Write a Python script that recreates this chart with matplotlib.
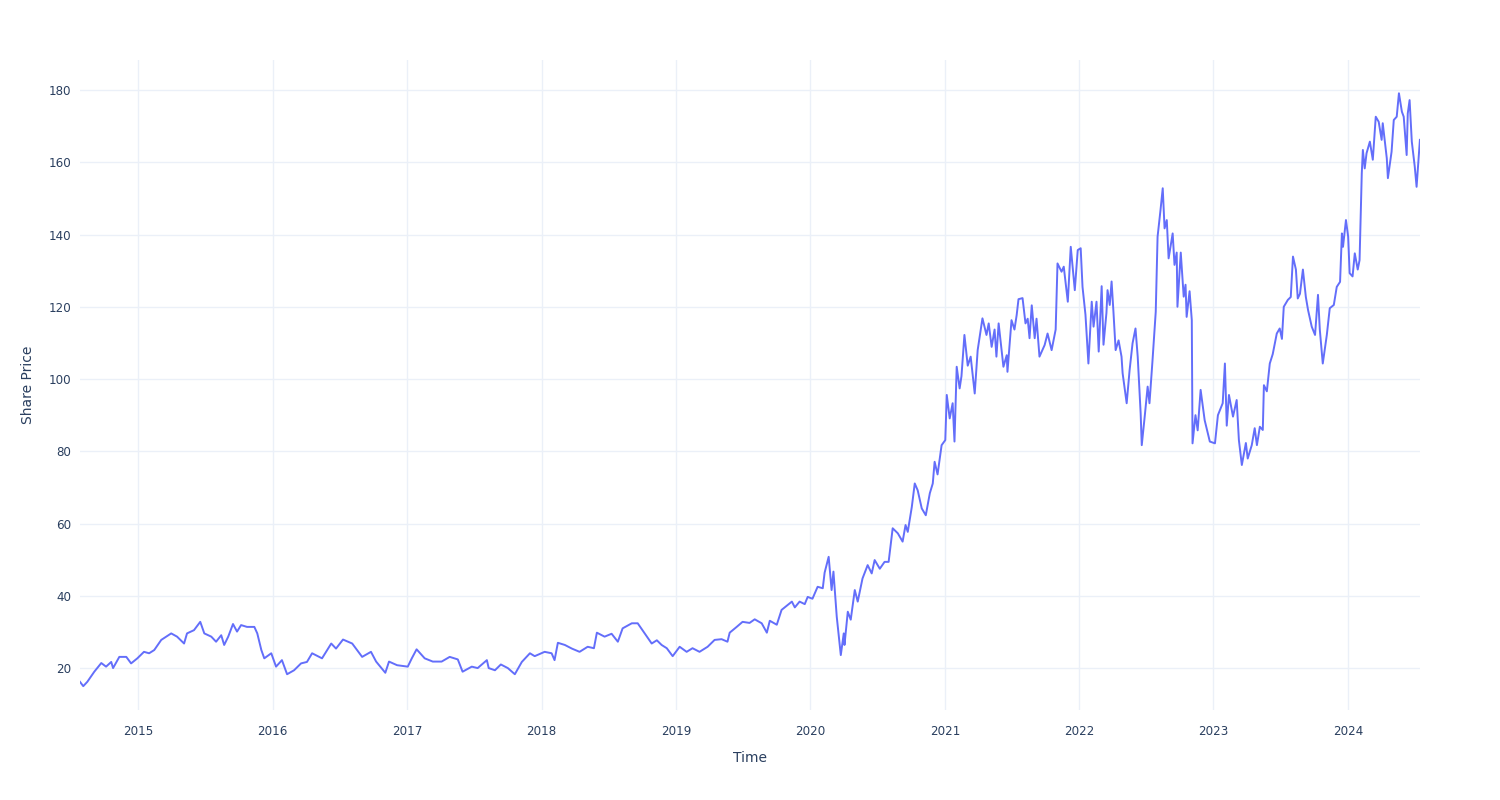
import matplotlib
matplotlib.use("Agg")
import matplotlib.pyplot as plt
import matplotlib.dates as mdates
import pandas as pd

# closing share price
dates = [
    "2014-07-26", "2014-08-04", "2014-08-15", "2014-09-03", "2014-09-22", "2014-10-05",
    "2014-10-19", "2014-10-24", "2014-11-10", "2014-11-29", "2014-12-12", "2014-12-29",
    "2015-01-16", "2015-01-30", "2015-02-13", "2015-03-04", "2015-03-31", "2015-04-16",
    "2015-05-05", "2015-05-13", "2015-06-01", "2015-06-18", "2015-06-29", "2015-07-18",
    "2015-07-31", "2015-08-14", "2015-08-22", "2015-09-02", "2015-09-15", "2015-09-26",
    "2015-10-07", "2015-10-23", "2015-11-12", "2015-11-20", "2015-12-01", "2015-12-09",
    "2015-12-28", "2016-01-10", "2016-01-26", "2016-02-09", "2016-02-28", "2016-03-18",
    "2016-04-03", "2016-04-17", "2016-05-14", "2016-06-08", "2016-06-21", "2016-07-10",
    "2016-08-04", "2016-08-31", "2016-09-24", "2016-10-08", "2016-11-02", "2016-11-12",
    "2016-12-04", "2017-01-02", "2017-01-13", "2017-01-26", "2017-02-17", "2017-03-11",
    "2017-04-04", "2017-04-26", "2017-05-18", "2017-05-31", "2017-06-25", "2017-07-11",
    "2017-08-05", "2017-08-10", "2017-08-27", "2017-09-12", "2017-10-01", "2017-10-20",
    "2017-11-08", "2017-11-30", "2017-12-13", "2018-01-09", "2018-01-28", "2018-02-05",
    "2018-02-14", "2018-03-05", "2018-03-24", "2018-04-14", "2018-05-06", "2018-05-23",
    "2018-05-31", "2018-06-21", "2018-07-10", "2018-07-27", "2018-08-09", "2018-09-03",
    "2018-09-19", "2018-10-08", "2018-10-27", "2018-11-10", "2018-11-23", "2018-12-07",
    "2018-12-23", "2019-01-11", "2019-01-30", "2019-02-15", "2019-03-06", "2019-03-28",
    "2019-04-16", "2019-05-05", "2019-05-21", "2019-05-27", "2019-06-15", "2019-07-01",
    "2019-07-20", "2019-08-03", "2019-08-22", "2019-09-05", "2019-09-13", "2019-10-02",
    "2019-10-15", "2019-11-12", "2019-11-20", "2019-12-03", "2019-12-17", "2019-12-25",
    "2020-01-07", "2020-01-21", "2020-02-04", "2020-02-09", "2020-02-20", "2020-02-28",
    "2020-03-04", "2020-03-13", "2020-03-24", "2020-04-01", "2020-04-03", "2020-04-12",
    "2020-04-20", "2020-05-01", "2020-05-09", "2020-05-22", "2020-06-05", "2020-06-16",
    "2020-06-24", "2020-07-08", "2020-07-21", "2020-08-01", "2020-08-12", "2020-08-26",
    "2020-09-08", "2020-09-16", "2020-09-22", "2020-10-03", "2020-10-11", "2020-10-19",
    "2020-10-30", "2020-11-10", "2020-11-21", "2020-11-29", "2020-12-04", "2020-12-12",
    "2020-12-23", "2021-01-02", "2021-01-06", "2021-01-14", "2021-01-22", "2021-01-27",
    "2021-02-02", "2021-02-10", "2021-02-15", "2021-02-23", "2021-03-04", "2021-03-12",
    "2021-03-23", "2021-03-31", "2021-04-13", "2021-04-24", "2021-04-30", "2021-05-08",
    "2021-05-16", "2021-05-21", "2021-05-27", "2021-06-09", "2021-06-18", "2021-06-20",
    "2021-07-01", "2021-07-09", "2021-07-15", "2021-07-20", "2021-07-31", "2021-08-08",
    "2021-08-14", "2021-08-19", "2021-08-25", "2021-09-02", "2021-09-07", "2021-09-15",
    "2021-09-29", "2021-10-07", "2021-10-18", "2021-10-29", "2021-11-03", "2021-11-14",
    "2021-11-20", "2021-12-01", "2021-12-09", "2021-12-20", "2021-12-28", "2022-01-05",
    "2022-01-10", "2022-01-18", "2022-01-26", "2022-02-04", "2022-02-09", "2022-02-17",
    "2022-02-23", "2022-03-03", "2022-03-08", "2022-03-16", "2022-03-19", "2022-03-25",
    "2022-03-30", "2022-04-04", "2022-04-10", "2022-04-18", "2022-04-26", "2022-04-29",
    "2022-05-10", "2022-05-18", "2022-05-26", "2022-06-03", "2022-06-09", "2022-06-17",
    "2022-06-20", "2022-06-28", "2022-07-06", "2022-07-11", "2022-07-19", "2022-07-28",
    "2022-08-02", "2022-08-10", "2022-08-16", "2022-08-21", "2022-08-27", "2022-09-01",
    "2022-09-12", "2022-09-17", "2022-09-23", "2022-09-25", "2022-10-04", "2022-10-12",
    "2022-10-17", "2022-10-20", "2022-10-28", "2022-11-03", "2022-11-05", "2022-11-13",
    "2022-11-19", "2022-11-27", "2022-12-08", "2022-12-22", "2023-01-05", "2023-01-13",
    "2023-01-26", "2023-02-01", "2023-02-06", "2023-02-12", "2023-02-23", "2023-03-05",
    "2023-03-11", "2023-03-19", "2023-03-30", "2023-04-04", "2023-04-15", "2023-04-23",
    "2023-04-29", "2023-05-07", "2023-05-15", "2023-05-18", "2023-05-26", "2023-06-03",
    "2023-06-11", "2023-06-22", "2023-06-30", "2023-07-06", "2023-07-11", "2023-07-22",
    "2023-07-30", "2023-08-05", "2023-08-13", "2023-08-18", "2023-08-24", "2023-09-01",
    "2023-09-09", "2023-09-15", "2023-09-25", "2023-10-04", "2023-10-12", "2023-10-17",
    "2023-10-25", "2023-11-05", "2023-11-13", "2023-11-24", "2023-12-02", "2023-12-11",
    "2023-12-16", "2023-12-19", "2023-12-27", "2024-01-02", "2024-01-06", "2024-01-14",
    "2024-01-20", "2024-01-28", "2024-02-02", "2024-02-08", "2024-02-11", "2024-02-16",
    "2024-02-21", "2024-03-01", "2024-03-09", "2024-03-17", "2024-03-25", "2024-04-02",
    "2024-04-05", "2024-04-16", "2024-04-19", "2024-04-29", "2024-05-05", "2024-05-13",
    "2024-05-19", "2024-05-27", "2024-06-01", "2024-06-09", "2024-06-12", "2024-06-17",
    "2024-06-23", "2024-07-01", "2024-07-06", "2024-07-15",
]

prices = [
    16.2, 15.0, 16.2, 19.0, 21.4, 20.4,
    21.7, 20.0, 23.1, 23.1, 21.3, 22.7,
    24.5, 24.1, 25.0, 27.8, 29.6, 28.7,
    26.8, 29.6, 30.5, 32.8, 29.6, 28.7,
    27.3, 29.1, 26.4, 28.7, 32.2, 30.1,
    31.9, 31.4, 31.4, 29.6, 25.0, 22.7,
    24.1, 20.4, 22.2, 18.3, 19.4, 21.3,
    21.7, 24.1, 22.7, 26.8, 25.4, 27.9,
    26.8, 23.1, 24.5, 21.8, 18.7, 21.8,
    20.8, 20.4, 22.7, 25.2, 22.7, 21.8,
    21.8, 23.1, 22.4, 19.0, 20.4, 20.0,
    22.2, 20.0, 19.4, 21.0, 20.0, 18.3,
    21.7, 24.1, 23.3, 24.5, 24.1, 22.2,
    27.0, 26.4, 25.4, 24.5, 25.9, 25.5,
    29.8, 28.7, 29.5, 27.3, 31.0, 32.4,
    32.4, 29.6, 26.8, 27.7, 26.4, 25.5,
    23.3, 25.9, 24.5, 25.5, 24.5, 25.9,
    27.8, 28.0, 27.3, 29.8, 31.4, 32.8,
    32.5, 33.5, 32.4, 29.8, 33.1, 32.0,
    36.1, 38.4, 36.8, 38.4, 37.7, 39.7,
    39.2, 42.5, 42.1, 46.4, 50.8, 41.6,
    46.7, 34.2, 23.6, 29.6, 26.4, 35.6,
    33.4, 41.6, 38.4, 44.8, 48.5, 46.2,
    49.9, 47.5, 49.4, 49.4, 58.7, 57.3,
    55.0, 59.6, 57.7, 64.6, 71.1, 69.2,
    64.2, 62.3, 68.4, 71.1, 77.1, 73.6,
    81.7, 83.1, 95.6, 89.1, 93.3, 82.7,
    103.4, 97.4, 100.8, 112.2, 103.7, 106.2,
    96.0, 108.0, 116.8, 112.2, 115.4, 108.9,
    113.7, 106.2, 115.4, 103.4, 106.6, 102.0,
    116.3, 113.7, 117.7, 122.1, 122.4, 115.4,
    116.7, 111.3, 120.4, 111.3, 116.7, 106.2,
    109.4, 112.6, 108.0, 113.7, 132.0, 129.7,
    131.1, 121.4, 136.6, 124.6, 135.7, 136.2,
    125.5, 117.8, 104.3, 121.4, 114.5, 121.4,
    107.6, 125.7, 109.5, 118.3, 124.6, 120.5,
    127.0, 118.7, 108.0, 110.7, 106.2, 101.6,
    93.3, 102.5, 109.9, 114.0, 106.2, 90.5,
    81.7, 89.6, 97.9, 93.3, 104.8, 118.6,
    139.4, 146.8, 152.8, 141.7, 144.0, 133.4,
    140.3, 131.6, 135.0, 120.0, 135.0, 122.8,
    126.1, 117.2, 124.3, 116.3, 82.2, 90.0,
    85.8, 97.0, 88.6, 82.7, 82.2, 90.0,
    93.3, 104.3, 87.1, 95.6, 89.6, 94.2,
    83.1, 76.2, 82.3, 78.0, 81.7, 86.4,
    81.7, 86.8, 85.9, 98.3, 96.6, 104.3,
    106.9, 112.6, 114.0, 111.1, 120.0, 121.9,
    122.7, 133.9, 130.3, 122.3, 123.6, 130.3,
    122.7, 119.1, 114.5, 112.2, 123.3, 113.6,
    104.3, 112.2, 119.6, 120.5, 125.5, 126.9,
    140.3, 136.6, 144.0, 139.4, 129.3, 128.4,
    134.8, 130.3, 132.9, 156.9, 163.4, 158.3,
    162.5, 165.7, 160.7, 172.6, 171.2, 166.2,
    170.8, 161.1, 155.6, 162.9, 171.7, 172.6,
    179.1, 174.0, 172.6, 162.0, 173.5, 177.2,
    165.7, 158.8, 153.2, 166.2,
]

price_ticks = [20, 40, 60, 80, 100, 120, 140, 160, 180]

df = pd.DataFrame({"Date": pd.to_datetime(dates), "Close": prices})

text_color = "#2a3f5f"
grid_color = "#ebf0f8"

fig = plt.figure(figsize=(15, 8), dpi=100)
ax = fig.add_axes([0.0533, 0.1125, 0.8933, 0.8125])

ax.plot(df["Date"], df["Close"], color="#636efa", linewidth=1.4)

ax.set_xlim(df["Date"].iloc[0], df["Date"].iloc[-1])
ax.set_ylim(8.4, 188.3)
ax.set_yticks(price_ticks)
ax.xaxis.set_major_locator(mdates.YearLocator())
ax.xaxis.set_major_formatter(mdates.DateFormatter("%Y"))

ax.grid(True, color=grid_color, linewidth=1)
ax.set_axisbelow(True)
for side in ax.spines.values():
    side.set_visible(False)
ax.tick_params(axis="both", length=0, labelsize=8.6, labelcolor=text_color)
ax.tick_params(axis="x", pad=11)
ax.tick_params(axis="y", pad=6)

ax.set_xlabel("Time", fontsize=10, color=text_color, labelpad=9)
ax.set_ylabel("Share Price", fontsize=10, color=text_color, labelpad=10)

fig.savefig("out.png", dpi=100, facecolor="white")
